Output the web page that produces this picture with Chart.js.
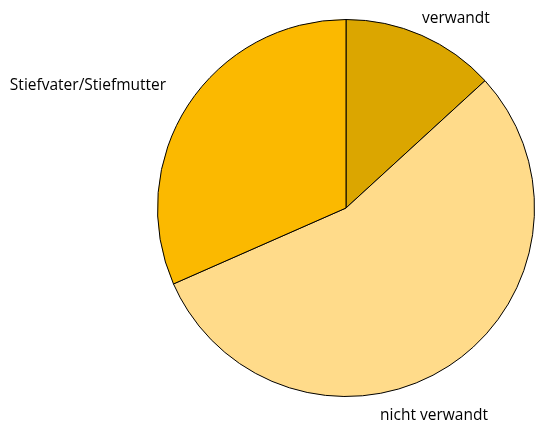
<!DOCTYPE html>
<html>
<head>
<meta charset="utf-8">
<script src="https://cdn.jsdelivr.net/npm/chart.js@4"></script>
<style>
  html, body { margin: 0; padding: 0; background: #fff; }
  #wrap { width: 536px; height: 423px; }
</style>
</head>
<body>
<div id="wrap"><canvas id="chart" width="536" height="423"></canvas></div>
<script>
// Data
const categories = ['verwandt', 'nicht verwandt', 'Stiefvater/Stiefmutter'];
const shares = [13.2, 55.2, 31.6];
const sliceColors = ['#DBA600', '#FFDB8A', '#FBB900'];

// label placement relative to the outer edge at each slice's middle angle
const labelOffsets = [
  { dx: 0, dy: -12, align: 'left' },
  { dx: -15, dy: 54, align: 'center' },
  { dx: -22, dy: -15, align: 'right' }
];

// Plugin to write the category names outside the pie
const outsideLabels = {
  id: 'outsideLabels',
  afterDatasetsDraw(chart) {
    const ctx = chart.ctx;
    const meta = chart.getDatasetMeta(0);
    ctx.save();
    ctx.font = '15.5px "Open Sans", sans-serif';
    ctx.fillStyle = '#000';
    ctx.textBaseline = 'alphabetic';
    meta.data.forEach((arc, i) => {
      const mid = (arc.startAngle + arc.endAngle) / 2;
      const x = arc.x + Math.cos(mid) * arc.outerRadius;
      const y = arc.y + Math.sin(mid) * arc.outerRadius;
      const off = labelOffsets[i];
      ctx.textAlign = off.align;
      ctx.fillText(chart.data.labels[i], x + off.dx, y + off.dy);
    });
    ctx.restore();
  }
};

new Chart(document.getElementById('chart').getContext('2d'), {
  type: 'pie',
  data: {
    labels: categories,
    datasets: [{
      data: shares,
      backgroundColor: sliceColors,
      borderColor: '#000',
      borderWidth: 1
    }]
  },
  options: {
    responsive: false,
    animation: false,
    layout: { padding: { left: 157, right: 1, top: 19, bottom: 26 } },
    plugins: {
      legend: { display: false },
      tooltip: { enabled: false }
    }
  },
  plugins: [outsideLabels]
});
</script>
</body>
</html>
